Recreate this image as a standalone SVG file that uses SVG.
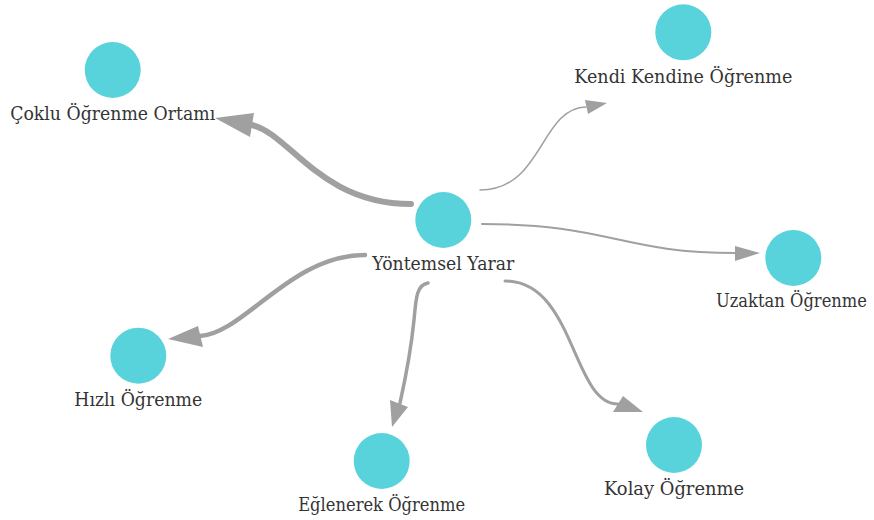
<svg xmlns="http://www.w3.org/2000/svg" width="874" height="520" viewBox="0 0 874 520">
<style>
.node circle{fill:#58d3dc}
.node text{font-family:'DejaVu Serif',serif;font-size:19px;fill:#343434;text-anchor:middle}
.edge{fill:none;stroke:#a0a0a0;stroke-linecap:round}
.head{fill:#a0a0a0}
</style>
<rect width="874" height="520" fill="#ffffff"/>
<g id="connectors">
<path class="edge" stroke-width="6" d="M411,204 C320,204 290,134 252,125"/>
<polygon class="head" points="215,118 254,113 250,137"/>
<path class="edge" stroke-width="4.5" d="M365,255 C290,255 245,333 200,336"/>
<polygon class="head" points="168,339 198,326 203,347"/>
<path class="edge" stroke-width="3.5" d="M428,283 C416,285 416,300 414,320 C411,350 404,385 400,403"/>
<polygon class="head" points="392,427 390,400 408,407"/>
<path class="edge" stroke-width="1.6" d="M480,190 C543,190 540,108 586,107"/>
<polygon class="head" points="607,103 585,100 588,114"/>
<path class="edge" stroke-width="2" d="M482,224 C610,224 620,253 736,253"/>
<polygon class="head" points="760,253 735,246 735,261"/>
<path class="edge" stroke-width="3" d="M505,281 C575,281 572,404 618,404"/>
<polygon class="head" points="643,412 613,412 623,396"/>
</g>
<g id="n-yontemsel" class="node"><circle cx="443.3" cy="220" r="28"/><text x="443.3" y="270" textLength="142" lengthAdjust="spacingAndGlyphs">Yöntemsel Yarar</text></g>
<g id="n-coklu" class="node"><circle cx="112.7" cy="70" r="28"/><text x="112.7" y="120" textLength="205" lengthAdjust="spacingAndGlyphs">Çoklu Öğrenme Ortamı</text></g>
<g id="n-kendi" class="node"><circle cx="683.3" cy="32.3" r="28"/><text x="683.3" y="82.5" textLength="218" lengthAdjust="spacingAndGlyphs">Kendi Kendine Öğrenme</text></g>
<g id="n-uzaktan" class="node"><circle cx="793.3" cy="258" r="28"/><text x="791.5" y="307" font-size="17" textLength="151" lengthAdjust="spacingAndGlyphs">Uzaktan Öğrenme</text></g>
<g id="n-hizli" class="node"><circle cx="138.3" cy="355.7" r="28"/><text x="138.3" y="406" textLength="128" lengthAdjust="spacingAndGlyphs">Hızlı Öğrenme</text></g>
<g id="n-eglenerek" class="node"><circle cx="381.7" cy="461" r="28"/><text x="381.7" y="511" textLength="167" lengthAdjust="spacingAndGlyphs">Eğlenerek Öğrenme</text></g>
<g id="n-kolay" class="node"><circle cx="674" cy="445" r="28"/><text x="674" y="495" textLength="140" lengthAdjust="spacingAndGlyphs">Kolay Öğrenme</text></g>
</svg>
